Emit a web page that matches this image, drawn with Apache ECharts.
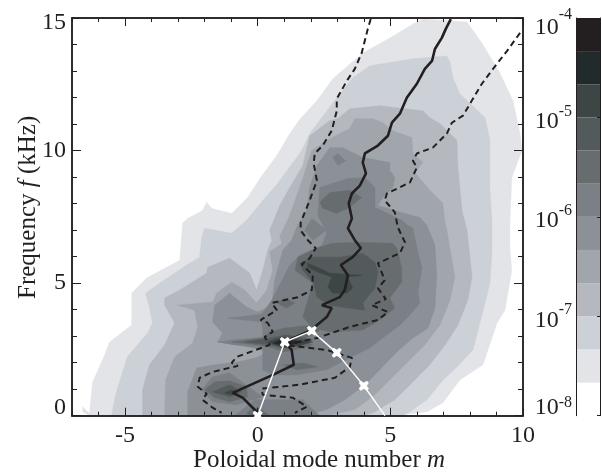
<!DOCTYPE html>
<html><head><meta charset="utf-8">
<style>html,body{margin:0;padding:0;background:#fff}#c{width:602px;height:472px}</style>
<script src="https://cdn.jsdelivr.net/npm/echarts@6/dist/echarts.min.js"></script>
</head><body><div id="c"></div>
<script>
const bandColors=['#ffffff','#e3e4e8','#ccd0d7','#b5b8bf','#a0a6ac','#8b9197','#7a8086','#676d6e','#535a5c','#3e4645','#222b2b','#231f20'];
const bandEdges=[-8,-7.667,-7.333,-7,-6.667,-6.333,-6,-5.667,-5.333,-5,-4.667,-4.333,-4];
const xMajor=[-5,0,5,10], xMinor=[-7,-6,-4,-3,-2,-1,1,2,3,4,6,7,8,9];
const yMajor=[0,5,10,15], yMinor=[1,2,3,4,6,7,8,9,11,12,13,14];

const c1=[[-6.6,0.34],[-6.34,0.08],[-6.23,1.24],[-5.77,2.29],[-5.58,2.78],[-4.75,3.42],[-4.75,4.62],[-4.19,5.19],[-2.94,5.86],[-2.83,7.26],[-2.64,7.44],[-2.08,7.74],[-1.92,8.05],[-1.74,7.82],[-0.98,7.63],[-0.38,8.23],[0.08,8.95],[0.72,9.81],[1.21,10.64],[1.58,11.17],[2.23,11.88],[2.83,12.71],[3.96,13.68],[4.98,14.25],[5.85,14.77],[6.23,14.96],[7.89,14.85],[8.45,14.06],[9.13,12.93],[9.62,11.88],[9.89,10.64],[9.96,10.0],[9.58,8.98],[9.51,7.37],[9.51,6.24],[9.58,5.49],[9.32,3.98],[9.02,3.5],[8.49,1.92],[7.62,1.35],[6.98,0.49],[6.38,0.15],[5.17,0.0],[-6.34,0.0],[-6.6,0.15]];
const c2=[[-5.51,0.0],[-5.36,0.79],[-4.91,2.22],[-4.15,3.12],[-3.96,3.5],[-4.08,4.1],[-4.23,4.62],[-3.7,5.0],[-2.68,5.68],[-2.19,5.98],[-2.11,6.73],[-2.0,7.07],[-0.98,6.88],[-0.42,7.37],[0.19,8.12],[0.75,8.76],[1.47,9.74],[1.66,10.0],[1.96,10.64],[2.98,11.99],[3.58,12.74],[4.23,13.2],[5.85,13.46],[7.13,13.57],[7.25,13.31],[7.36,12.74],[7.62,12.14],[8.57,11.24],[8.75,10.38],[8.75,8.61],[8.83,7.37],[8.83,6.13],[8.75,5.0],[8.57,4.25],[8.26,3.05],[8.11,2.48],[7.51,1.84],[6.98,1.35],[6.38,0.6],[5.74,0.15],[5.47,0.0]];
const c3=[[-4.34,0.0],[-4.34,0.98],[-4.08,1.92],[-3.51,2.67],[-3.13,3.5],[-3.51,4.17],[-3.51,4.44],[-2.94,4.74],[-1.92,5.38],[-1.89,5.6],[-1.06,5.94],[-0.3,5.38],[-0.04,4.74],[0.19,5.49],[0.38,6.24],[0.53,6.62],[0.45,6.99],[0.83,7.93],[1.21,8.61],[1.7,9.44],[1.96,10.56],[2.72,11.13],[3.02,11.2],[3.47,11.58],[4.6,11.69],[6.23,11.5],[6.49,11.24],[6.87,11.02],[7.51,10.38],[7.55,9.36],[7.7,7.74],[7.89,6.99],[8.08,5.23],[7.92,4.36],[7.55,3.42],[7.06,2.67],[6.49,1.92],[5.74,1.17],[5.17,0.6],[4.42,0.15],[4.0,0.0]];
const c4=[[-3.51,0.0],[-3.47,1.35],[-3.13,2.22],[-2.45,2.74],[-2.26,3.35],[-2.38,3.98],[-3.02,4.17],[-1.7,4.29],[-1.55,4.62],[-0.98,5.04],[-0.49,4.74],[-0.04,4.25],[0.34,4.74],[0.57,5.49],[0.45,6.17],[0.91,6.5],[0.83,6.77],[1.21,7.56],[1.58,8.61],[2.04,10.0],[2.72,10.45],[3.47,10.83],[3.66,11.2],[4.34,11.2],[4.72,11.05],[5.09,10.75],[5.81,10.49],[5.85,9.89],[6.23,9.55],[5.92,9.17],[6.49,8.5],[6.98,8.01],[7.06,7.26],[7.13,6.99],[7.43,5.23],[7.25,4.36],[6.87,3.42],[6.3,2.67],[5.36,1.73],[4.42,0.79],[3.66,0.23],[2.6,0.0]];
const c5=[[-2.64,0.0],[-2.64,0.9],[-2.3,1.8],[-1.62,1.92],[-0.75,2.03],[-0.08,2.18],[0.38,2.41],[-0.68,2.67],[-1.51,2.78],[-1.32,3.12],[-1.7,3.53],[-1.62,4.17],[-1.06,4.62],[-0.42,4.1],[0,3.91],[0.53,4.17],[0.64,5.11],[0.94,6.24],[1.28,6.62],[1.47,7.11],[1.85,7.74],[1.96,8.61],[2.23,9.44],[2.72,10.11],[3.21,10.11],[3.96,9.74],[4.98,9.55],[4.98,9.25],[5.17,8.98],[5.09,8.61],[4.72,8.23],[4.53,7.93],[5.55,7.63],[6.11,7.48],[6.38,7.18],[6.68,6.43],[6.75,5.3],[6.68,4.06],[6.42,3.31],[5.85,2.93],[5.25,2.41],[4.6,1.73],[4.04,1.17],[3.28,0.6],[2.6,0.23],[1.77,0.0]];
const c6=[[1.58,6.05],[2.42,6.43],[2.6,6.92],[2.26,7.56],[2.34,8.61],[3.4,8.95],[4.04,8.98],[4.42,8.61],[4.42,7.86],[5.43,7.37],[5.66,7.18],[5.85,7.07],[6.04,6.17],[6.19,5.56],[6.04,4.66],[6.11,4.25],[5.74,3.8],[5.36,3.42],[4.23,2.56],[3.09,1.99],[2.6,1.73],[1.47,1.54],[0.57,1.54],[0.19,1.73],[0.19,2.56],[-0.87,2.67],[-1.51,2.78],[-0.87,2.86],[0.19,2.97],[0.19,3.23],[0.15,3.53],[-1.13,3.68],[0.15,3.83],[0.53,4.36],[1.21,5.68]];
const c6top=[[2.83,9.74],[3.02,9.89],[3.32,9.62],[3.02,9.44]];
const c6mid=[[1.77,6.99],[2.04,7.44],[2.6,6.99],[2.08,6.62]];
const c6lobe=[[-2.11,0.98],[-1.7,1.47],[-1.06,1.62],[-0.19,0.98],[0.19,0.71],[-0.79,0.41],[-1.7,0.53]];
const c6base=[[-0.87,0.0],[-0.11,0.6],[1.7,0.6],[2.34,0.0]];
const c7=[[1.51,5.98],[2.23,6.32],[2.79,6.5],[3.74,6.54],[5.09,6.5],[5.25,6.32],[5.43,5.56],[5.43,5.04],[4.98,4.44],[5.17,4.06],[4.49,3.53],[3.96,3.23],[2.72,3.16],[2.08,3.31],[1.7,3.72],[1.89,4.36],[2.08,5.0],[1.4,5.49]];
const c7island=[[2.34,8.05],[2.72,8.42],[3.47,8.5],[3.92,8.23],[3.47,7.86],[2.98,7.63],[2.45,7.82]];
const c7core=[[-0.98,2.78],[0.19,2.93],[0.45,3.16],[1.02,3.31],[2.08,3.42],[2.45,3.31],[2.08,3.05],[1.7,2.86],[2.08,2.67],[1.7,2.56],[1.02,2.41],[0.45,2.59],[-0.04,2.67]];
const c7top=[[0.72,4.25],[1.02,4.44],[1.4,4.25],[1.09,4.06]];
const c7second=[[0.94,1.92],[1.7,1.99],[2.26,1.84],[1.47,1.73]];
const c7lobe=[[-2.0,0.98],[-1.62,1.28],[-1.06,1.32],[-0.42,1.09],[-0.38,0.71],[-1.06,0.53],[-1.62,0.68]];
const c7base=[[-0.38,0.0],[-0.38,0.15],[0,0.3],[0.45,0.0]];
const c8=[[1.58,5.75],[2.04,5.98],[3.09,5.98],[3.96,6.13],[4.42,5.79],[4.53,5.41],[4.42,4.81],[3.96,4.25],[4.04,3.98],[3.36,4.06],[2.72,4.17],[2.23,4.47],[2.11,5.0],[1.7,5.49]];
const c8core=[[-0.49,2.78],[0.45,2.93],[1.09,3.05],[2.08,2.86],[1.7,2.67],[1.09,2.56],[0.45,2.67]];
const c8lobe=[[-1.7,0.9],[-1.06,1.17],[-0.6,0.9],[-1.06,0.71]];
const c9=[[1.89,5.75],[2.34,5.56],[2.72,5.38],[3.96,5.3],[3.4,5.23],[3.58,4.81],[3.36,4.62],[2.83,4.62],[2.64,4.85],[2.79,5.23],[2.34,5.38],[1.89,5.6]];
const c9core=[[0.34,2.78],[0.94,2.97],[2.08,2.78],[1.47,2.63],[0.94,2.56]];
const c9lobe=[[-1.25,0.86],[-0.98,0.98],[-0.75,0.86],[-0.98,0.79]];
const c10core=[[0.57,2.74],[0.94,2.89],[1.7,2.78],[1.02,2.63]];
const c11core=[[0.91,2.74],[1.09,2.82],[1.32,2.74],[1.09,2.71]];
const layers=[[1,c1],[2,c2],[3,c3],[4,c4],[5,c5],[6,c6],[6,c6top],[6,c6mid],[6,c6lobe],[6,c6base],[7,c7],[7,c7island],[7,c7core],[7,c7top],[7,c7second],[7,c7lobe],[7,c7base],[8,c8],[8,c8core],[8,c8lobe],[9,c9],[9,c9core],[9,c9lobe],[10,c10core],[11,c11core]];

const medianLine=[[7.28,14.96],[7.09,14.59],[6.94,14.25],[6.68,13.83],[6.57,13.38],[6.3,13.08],[6.0,12.52],[5.62,11.99],[5.36,11.39],[5.06,11.05],[4.91,10.56],[4.53,10.19],[4.04,9.89],[3.96,9.55],[4.08,9.14],[3.85,8.68],[3.55,8.38],[3.43,8.01],[3.55,7.44],[3.4,7.07],[3.66,6.62],[3.89,6.32],[3.58,5.98],[3.13,5.68],[3.4,5.3],[3.28,4.74],[3.09,4.47],[2.42,4.17],[2.79,4.06],[2.6,3.72],[2.15,3.35],[1.96,3.2],[1.02,2.78],[1.28,2.48],[1.36,1.92],[0.57,1.54],[-0.94,0.86],[-0.57,0.68],[0,0.11]];
const lowerDash=[[4.26,14.96],[4.15,14.59],[3.92,13.68],[3.66,13.08],[3.36,12.63],[2.98,11.95],[2.98,11.5],[2.79,10.75],[2.45,10.19],[2.15,9.89],[2.11,9.51],[2.23,8.87],[1.96,8.12],[1.62,7.29],[1.62,6.99],[1.89,6.62],[2.19,6.32],[1.96,5.94],[1.66,5.71],[2.08,5.3],[2.04,4.74],[1.51,4.47],[0.53,4.25],[0.72,3.98],[0.11,3.61],[0.38,3.5],[0.57,3.16],[0.26,2.97],[0.45,2.67],[-0.79,2.22],[-0.98,1.99],[-0.75,1.88],[-1.7,1.65],[-2.19,1.43],[-2.26,1.09],[-1.92,0.83],[-2.08,0.6],[-1.7,0.3],[-1.36,0.11]];
const upperDash=[[9.89,14.44],[9.4,13.76],[8.87,13.08],[8.45,12.52],[8.11,11.95],[7.74,11.32],[7.32,11.05],[7.13,10.64],[6.6,10.11],[6.0,9.89],[5.85,9.62],[6.0,9.36],[5.74,8.8],[4.87,8.38],[4.79,8.12],[5.17,7.67],[5.28,7.11],[5.55,6.54],[5.36,6.13],[4.53,5.75],[4.79,5.11],[4.53,4.81],[4.83,4.4],[4.3,4.17],[4.91,3.91],[4.53,3.61],[3.47,3.35],[2.23,2.93],[1.02,2.67],[2.6,2.48],[3.55,2.18],[3.47,1.84],[2.91,1.43],[1.58,1.17],[0.15,1.02],[0.19,0.79],[1.32,0.68],[1.85,0.34],[1.4,0.11]];
const whiteLine=[[0,0],[1.02,2.78],[2.04,3.2],[2.98,2.37],[4.0,1.13],[4.8,0]];

const INK='#231f20', FONT='Liberation Serif';
const X_MARK='path://M2 0L5 2L8 0L10 2L8 5L10 8L8 10L5 8L2 10L0 8L2 5L0 2Z';
function tick(vals,len){return {show:true,inside:true,length:len,customValues:vals,lineStyle:{color:INK,width:1}};}
const noLabel={show:false};
function xAx(pos,vals,len,label){return {type:'value',gridIndex:0,min:-7,max:10,position:pos,z:6,axisLine:{show:true,onZero:false,lineStyle:{color:INK,width:1.5}},axisTick:tick(vals,len),splitLine:{show:false},axisLabel:label||noLabel};}
function yAx(pos,vals,len,label){return {type:'value',gridIndex:0,min:0,max:15,position:pos,z:6,axisLine:{show:true,onZero:false,lineStyle:{color:INK,width:1.5}},axisTick:tick(vals,len),splitLine:{show:false},axisLabel:label||noLabel};}
const xLabel={show:true,customValues:xMajor,color:INK,fontFamily:FONT,fontSize:24,margin:8};
const yLabel={show:true,customValues:yMajor,color:INK,fontFamily:FONT,fontSize:24,margin:6,
  formatter:v=>v===15?'{t|15}':v===0?'{b|0}':String(v),
  rich:{t:{fontFamily:FONT,fontSize:24,color:INK,padding:[10,0,0,0]},b:{fontFamily:FONT,fontSize:24,color:INK,padding:[0,0,16,0]}}};
const x0=Object.assign(xAx('bottom',xMajor,8,xLabel),{name:'Poloidal mode number {i|m}',nameLocation:'middle',nameGap:32,nameMoveOverlap:false,
  nameTextStyle:{color:INK,fontFamily:FONT,fontSize:25,padding:[0,0,0,43],rich:{i:{fontFamily:FONT,fontStyle:'italic',fontSize:25,color:INK}}}});
const y0=Object.assign(yAx('left',yMajor,9,yLabel),{name:'Frequency {i|f} (kHz)',nameLocation:'middle',nameGap:31,nameMoveOverlap:false,
  nameTextStyle:{color:INK,fontFamily:FONT,fontSize:25,padding:[0,0,0,19],rich:{i:{fontFamily:FONT,fontStyle:'italic',fontSize:25,color:INK}}}});

const cbLabel={show:true,color:INK,fontFamily:FONT,margin:4,
  formatter:v=>{const k=v===-4?'t':v===-8?'d':'m';return '{'+k+'|10}{s'+k+'|'+v+'}';},
  rich:{t:{fontFamily:FONT,fontSize:24,color:INK,padding:[20,0,0,0]},st:{fontFamily:FONT,fontSize:16,color:INK,padding:[0,0,6,0]},
        m:{fontFamily:FONT,fontSize:24,color:INK,padding:[8,0,0,0]},sm:{fontFamily:FONT,fontSize:16,color:INK,padding:[0,0,12,0]},
        d:{fontFamily:FONT,fontSize:24,color:INK,padding:[0,0,16,0]},sd:{fontFamily:FONT,fontSize:16,color:INK,padding:[0,0,26,0]}}};

const option={
  animation:false,backgroundColor:'#fff',
  grid:[{left:72,right:79,top:18,height:397.7,outerBoundsMode:'none'},{left:576,width:24,top:18,height:397.7,outerBoundsMode:'none'}],
  xAxis:[x0,xAx('bottom',xMinor,4),xAx('top',xMajor,8),xAx('top',xMinor,4),
    {type:'value',gridIndex:1,min:0,max:1,show:false}],
  yAxis:[y0,yAx('left',yMinor,5),yAx('right',yMajor,9),yAx('right',yMinor,5),
    {type:'value',gridIndex:1,min:-8,max:-4,interval:1,position:'left',z:6,axisLine:{show:true,onZero:false,lineStyle:{color:INK,width:1}},axisTick:{show:false},splitLine:{show:false},axisLabel:cbLabel},
    {type:'value',gridIndex:1,min:-8,max:-4,interval:1,position:'right',z:6,axisLine:{show:true,onZero:false,lineStyle:{color:INK,width:1}},axisTick:{show:true,inside:true,length:3,lineStyle:{color:INK}},splitLine:{show:false},axisLabel:{show:false}}],
  series:[
    {type:'custom',xAxisIndex:0,yAxisIndex:0,z:1,silent:true,clip:true,data:layers.map((l,i)=>[i]),
      renderItem:(p,api)=>{const l=layers[p.dataIndex];const c=bandColors[l[0]];
        return {type:'polygon',shape:{points:l[1].map(q=>api.coord(q))},style:{fill:c,stroke:c,lineWidth:0.4}};}},
    {type:'line',xAxisIndex:0,yAxisIndex:0,z:3,data:medianLine,showSymbol:false,symbol:'none',silent:true,lineStyle:{color:INK,width:2.6}},
    {type:'line',xAxisIndex:0,yAxisIndex:0,z:3,data:lowerDash,showSymbol:false,symbol:'none',silent:true,lineStyle:{color:INK,width:2,type:[6,4]}},
    {type:'line',xAxisIndex:0,yAxisIndex:0,z:3,data:upperDash,showSymbol:false,symbol:'none',silent:true,lineStyle:{color:INK,width:2,type:[6,4]}},
    {type:'line',xAxisIndex:0,yAxisIndex:0,z:8,clip:false,silent:true,data:whiteLine.map((d,i)=>({value:d,symbol:i<whiteLine.length-1?X_MARK:'none'})),symbolSize:10,showSymbol:true,showAllSymbol:true,itemStyle:{color:'#fff'},lineStyle:{color:'#fff',width:1.4}},
    {type:'custom',xAxisIndex:4,yAxisIndex:4,z:1,silent:true,data:bandColors.map((c,i)=>[i]),
      renderItem:(p,api)=>{const i=p.dataIndex;const a=api.coord([0,bandEdges[i]]),b=api.coord([1,bandEdges[i+1]]);
        return {type:'rect',shape:{x:a[0],y:b[1],width:b[0]-a[0],height:a[1]-b[1]},style:{fill:bandColors[i]}};}}
  ]
};
echarts.init(document.getElementById('c'),null,{renderer:'canvas'}).setOption(option);
</script></body></html>
